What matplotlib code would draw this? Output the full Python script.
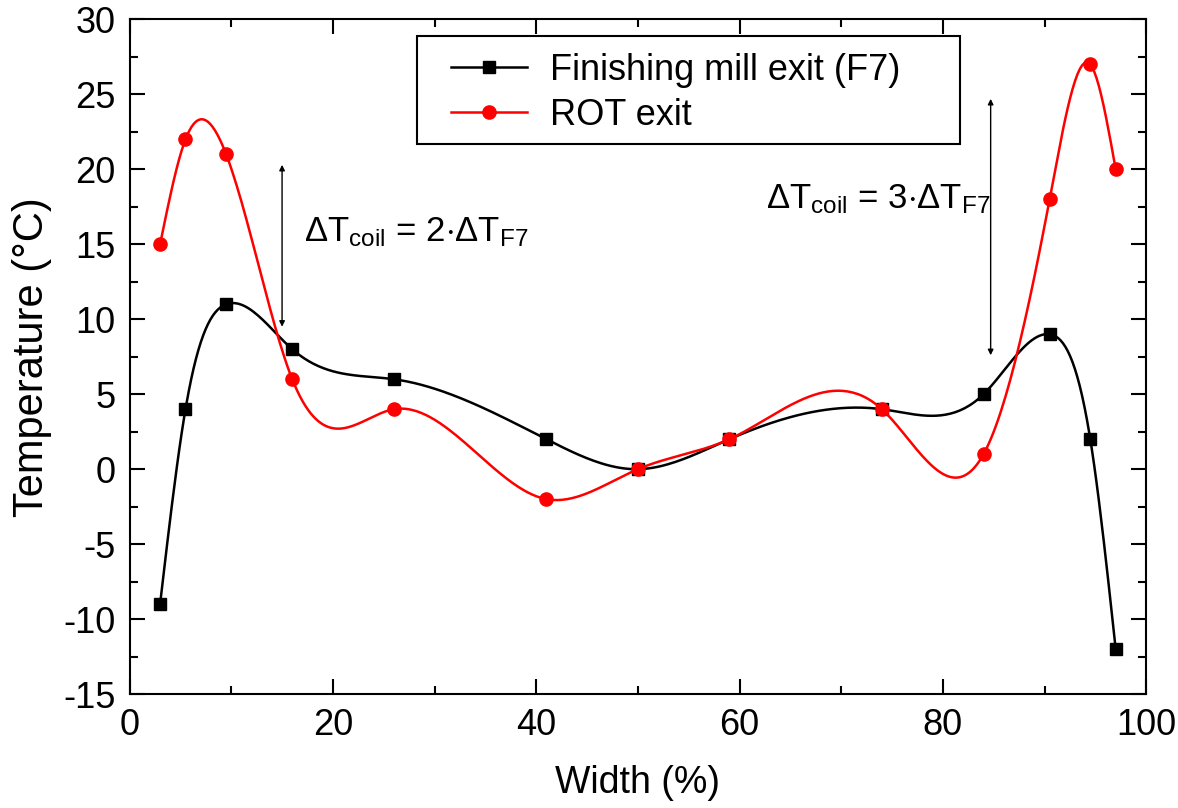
import numpy as np
import matplotlib
matplotlib.use("Agg")
import matplotlib.pyplot as plt
from matplotlib.patches import Rectangle
from matplotlib.ticker import MultipleLocator

plt.rcParams["font.family"] = ["Liberation Sans", "DejaVu Sans"]
plt.rcParams["mathtext.fontset"] = "custom"
plt.rcParams["mathtext.rm"] = "Liberation Sans"
plt.rcParams["mathtext.it"] = "Liberation Sans"
plt.rcParams["axes.unicode_minus"] = False

# data
width = [3, 5.5, 9.5, 16, 26, 41, 50, 59, 74, 84, 90.5, 94.5, 97]
temp_f7 = [-9, 4, 11, 8, 6, 2, 0, 2, 4, 5, 9, 2, -12]
temp_rot = [15, 22, 21, 6, 4, -2, 0, 2, 4, 1, 18, 27, 20]


def spline(x, y, n=400):
    # natural cubic spline, only for drawing the smooth connecting line
    x = np.asarray(x, float); y = np.asarray(y, float)
    m = len(x); h = np.diff(x)
    A = np.zeros((m, m)); r = np.zeros(m)
    A[0, 0] = A[-1, -1] = 1
    for i in range(1, m - 1):
        A[i, i - 1] = h[i - 1]; A[i, i] = 2 * (h[i - 1] + h[i]); A[i, i + 1] = h[i]
        r[i] = 3 * ((y[i + 1] - y[i]) / h[i] - (y[i] - y[i - 1]) / h[i - 1])
    c = np.linalg.solve(A, r)
    b = (y[1:] - y[:-1]) / h - h * (2 * c[:-1] + c[1:]) / 3
    d = (c[1:] - c[:-1]) / (3 * h)
    xs = np.linspace(x[0], x[-1], n)
    k = np.clip(np.searchsorted(x, xs) - 1, 0, m - 2)
    t = xs - x[k]
    return xs, y[k] + b[k] * t + c[k] * t ** 2 + d[k] * t ** 3


fig = plt.figure(figsize=(11.78, 8.08), dpi=100)
ax = fig.add_axes([0.110, 0.141, 0.863, 0.835])

for yv, col, mk, ms, lab in [(temp_f7, "black", "s", 8, "Finishing mill exit (F7)"),
                             (temp_rot, "red", "o", 9.5, "ROT exit")]:
    xs, ys = spline(width, yv)
    ax.plot(xs, ys, color=col, lw=1.8)
    ax.plot(width, yv, ls="none", marker=mk, ms=ms, color=col)
    ax.plot([], [], color=col, lw=1.8, marker=mk, ms=ms, label=lab)

# double arrows and labels
for xa, y0, y1 in [(15, 20.3, 9.5), (84.7, 24.7, 7.6)]:
    ax.annotate("", xy=(xa, y0), xytext=(xa, y1),
                arrowprops=dict(arrowstyle="<|-|>", color="black", lw=1,
                                mutation_scale=8, shrinkA=0, shrinkB=0))
ax.text(17.2, 15.8, r"$\Delta$T$_{\rm coil}$ = 2$\cdot\Delta$T$_{\rm F7}$",
        fontsize=25, ha="left", va="center")
ax.text(62.6, 18.0, r"$\Delta$T$_{\rm coil}$ = 3$\cdot\Delta$T$_{\rm F7}$",
        fontsize=25, ha="left", va="center")

ax.set_xlim(0, 100)
ax.set_ylim(-15, 30)
ax.xaxis.set_major_locator(MultipleLocator(20))
ax.xaxis.set_minor_locator(MultipleLocator(10))
ax.yaxis.set_major_locator(MultipleLocator(5))
ax.yaxis.set_minor_locator(MultipleLocator(2.5))
ax.tick_params(which="both", direction="in", top=True, right=True, width=1.5,
               labelsize=26)
ax.tick_params(which="major", length=11, pad=10)
ax.tick_params(which="minor", length=6)
for s in ax.spines.values():
    s.set_linewidth(1.5)
ax.set_xlabel("Width (%)", fontsize=27, labelpad=16)
ax.set_ylabel("Temperature (°C)", fontsize=30, labelpad=8)

# legend frame drawn as its own box, legend entries inside it
ax.add_patch(Rectangle((0.283, 0.815), 0.534, 0.160, transform=ax.transAxes,
                       facecolor="white", edgecolor="black", lw=1.5, zorder=4))
leg = ax.legend(loc="upper left", bbox_to_anchor=(0.316, 0.950), fontsize=26,
                frameon=False, borderpad=0, borderaxespad=0,
                handlelength=2.1, handletextpad=0.65, labelspacing=0.26)
leg.set_zorder(5)

fig.savefig("out.png", dpi=100, facecolor="white")
